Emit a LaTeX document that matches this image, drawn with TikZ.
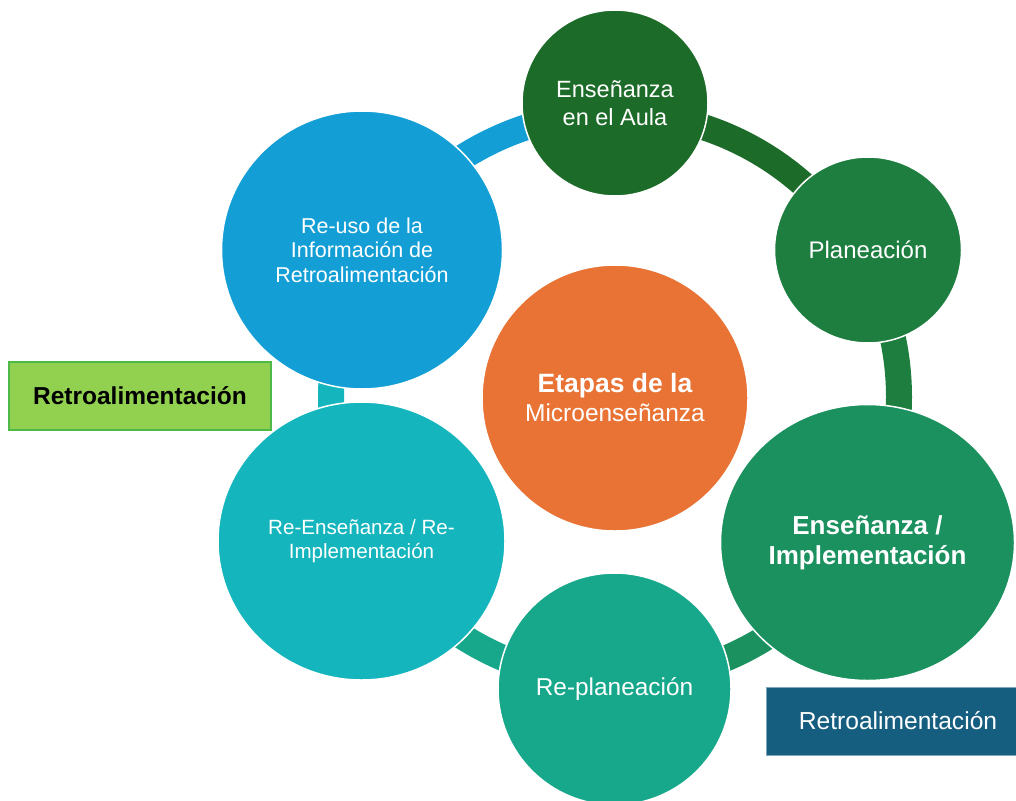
\documentclass[tikz,border=0pt]{standalone}
\usepackage{fontspec}
\setmainfont{Liberation Sans}
\usetikzlibrary{shapes.geometric}
\definecolor{cAula}{HTML}{1C6B28}
\definecolor{cPlan}{HTML}{1D7E3F}
\definecolor{cImpl}{HTML}{1A915E}
\definecolor{cReplan}{HTML}{17A88C}
\definecolor{cReens}{HTML}{15B5BE}
\definecolor{cReuso}{HTML}{139FD6}
\definecolor{cCenter}{HTML}{E87334}
\definecolor{cGreen}{HTML}{92D050}
\definecolor{cGreenB}{HTML}{4EB848}
\definecolor{cBlue}{HTML}{165E7F}
\definecolor{cBlueB}{HTML}{7FA6BA}
\begin{document}
\begin{tikzpicture}[x=1pt,y=1pt,
  ringarc/.style={line width=26pt},
  bub/.style={ellipse, draw=white, line width=1.5pt, text=white, align=center, inner sep=0pt},
  fbox/.style={rectangle, minimum height=68pt, inner sep=0pt},
]
\useasboundingbox (0,0) rectangle (1016,-800);
\coordinate (ring) at (615,-397);
% ring segments
\draw[ringarc, cAula]   ([shift={(90:284)}]ring)   arc[start angle=90,  end angle=30,   radius=284];
\draw[ringarc, cPlan]   ([shift={(30:284)}]ring)   arc[start angle=30,  end angle=-30,  radius=284];
\draw[ringarc, cImpl]   ([shift={(-30:284)}]ring)  arc[start angle=-30, end angle=-90,  radius=284];
\draw[ringarc, cReplan] ([shift={(-90:284)}]ring)  arc[start angle=-90, end angle=-150, radius=284];
\draw[ringarc, cReens]  ([shift={(-150:284)}]ring) arc[start angle=-150,end angle=-210, radius=284];
\draw[ringarc, cReuso]  ([shift={(150:284)}]ring)  arc[start angle=150, end angle=90,   radius=284];
% circles
\node[bub, fill=cAula, minimum width=186pt, minimum height=186pt,
  font=\fontsize{23.5}{28}\selectfont] (aula) at (615,-103) {Enseñanza\\en el Aula};
\node[bub, fill=cPlan, minimum width=187pt, minimum height=186pt,
  font=\fontsize{24}{28}\selectfont] (plan) at (868,-250) {Planeación};
\node[bub, fill=cImpl, minimum width=294pt, minimum height=276pt,
  font=\fontsize{26}{30}\selectfont\bfseries] (impl) at (867.5,-542.5) {Enseñanza /\\Implementación};
\node[bub, fill=cReplan, minimum width=233pt, minimum height=232pt,
  font=\fontsize{24.4}{28}\selectfont] (replan) at (614.5,-689) {Re-planeación};
\node[bub, fill=cReens, minimum width=287pt, minimum height=278pt,
  font=\fontsize{20.6}{24}\selectfont] (reens) at (361.5,-541) {Re-Enseñanza / Re-\\Implementación};
\node[bub, fill=cReuso, minimum width=281pt, minimum height=278pt,
  font=\fontsize{21.5}{24.5}\selectfont] (reuso) at (362,-250) {Re-uso de la\\Información de\\Retroalimentación};
\node[bub, fill=cCenter, minimum width=266pt, minimum height=266pt,
  font=\fontsize{24.5}{29}\selectfont] (centro) at (615,-398)
  {{\bfseries\fontsize{26.5}{29}\selectfont Etapas de la}\\Microenseñanza};
% feedback boxes
\node[fbox, draw=cGreenB, fill=cGreen, line width=1.5pt, minimum width=262pt,
  font=\fontsize{24.5}{27}\selectfont\bfseries, text=black] (fb1) at (140,-396) {Retroalimentación};
\node[fbox, draw=cBlueB, fill=cBlue, line width=0.8pt, minimum width=264pt,
  font=\fontsize{24.6}{27}\selectfont, text=white] (fb2) at (898,-721) {Retroalimentación};
\end{tikzpicture}
\end{document}
